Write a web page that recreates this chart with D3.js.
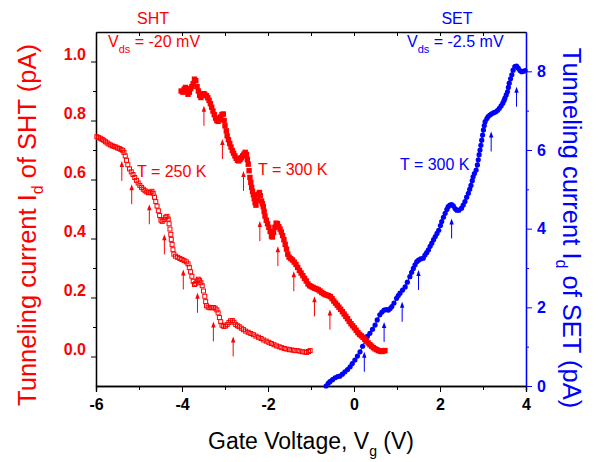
<!DOCTYPE html>
<html><head><meta charset="utf-8">
<script src="https://cdn.jsdelivr.net/npm/d3@7"></script>
<style>body{margin:0;background:#fff}svg{display:block}text{font-family:"Liberation Sans",Arial,sans-serif}</style>
</head><body>
<svg id="c" width="599" height="462"></svg>
<script>
// ---- data ----
const sht250V = [-5.98,-5.94,-5.90,-5.86,-5.82,-5.78,-5.74,-5.70,-5.66,-5.62,-5.58,-5.54,-5.50,-5.46,-5.42,-5.38,-5.35,-5.32,-5.29,-5.26,-5.22,-5.18,-5.14,-5.10,-5.06,-5.02,-4.98,-4.94,-4.90,-4.86,-4.82,-4.78,-4.74,-4.70,-4.67,-4.64,-4.61,-4.58,-4.55,-4.52,-4.49,-4.46,-4.42,-4.38,-4.35,-4.32,-4.30,-4.28,-4.26,-4.25,-4.23,-4.21,-4.19,-4.15,-4.10,-4.05,-4.00,-3.95,-3.90,-3.86,-3.83,-3.80,-3.77,-3.74,-3.71,-3.68,-3.65,-3.62,-3.59,-3.56,-3.53,-3.50,-3.47,-3.45,-3.43,-3.39,-3.35,-3.31,-3.27,-3.23,-3.19,-3.16,-3.13,-3.10,-3.07,-3.03,-2.99,-2.95,-2.91,-2.87,-2.83,-2.79,-2.75,-2.71,-2.67,-2.62,-2.57,-2.52,-2.46,-2.40,-2.34,-2.28,-2.22,-2.16,-2.10,-2.04,-1.98,-1.92,-1.86,-1.80,-1.74,-1.68,-1.62,-1.56,-1.50,-1.44,-1.38,-1.32,-1.26,-1.20,-1.14,-1.10,-1.06,-1.02];
const sht250I = [.745,.742,.740,.736,.733,.728,.724,.720,.717,.714,.712,.710,.707,.705,.702,.699,.692,.680,.665,.650,.636,.626,.617,.607,.597,.588,.580,.573,.567,.562,.558,.555,.556,.560,.553,.540,.525,.510,.494,.478,.462,.458,.464,.472,.475,.466,.450,.432,.414,.397,.380,.362,.347,.340,.336,.332,.329,.325,.321,.314,.302,.287,.272,.255,.244,.248,.256,.262,.258,.250,.240,.222,.204,.186,.172,.167,.165,.166,.166,.164,.158,.148,.132,.118,.106,.102,.103,.108,.115,.121,.122,.116,.108,.104,.101,.096,.091,.086,.082,.078,.074,.069,.065,.061,.056,.052,.048,.044,.040,.036,.033,.030,.027,.025,.023,.022,.020,.020,.018,.016,.015,.014,.017,.020];

const sht300V = [-4.02,-3.98,-3.95,-3.92,-3.89,-3.86,-3.83,-3.80,-3.77,-3.74,-3.71,-3.68,-3.65,-3.62,-3.59,-3.56,-3.53,-3.50,-3.47,-3.43,-3.40,-3.37,-3.34,-3.31,-3.28,-3.25,-3.22,-3.19,-3.16,-3.13,-3.10,-3.07,-3.04,-3.02,-3.00,-2.97,-2.95,-2.92,-2.89,-2.86,-2.83,-2.80,-2.77,-2.74,-2.71,-2.68,-2.65,-2.62,-2.59,-2.56,-2.53,-2.50,-2.48,-2.46,-2.44,-2.42,-2.40,-2.38,-2.36,-2.34,-2.32,-2.30,-2.28,-2.25,-2.22,-2.20,-2.18,-2.15,-2.13,-2.11,-2.09,-2.07,-2.04,-2.01,-1.98,-1.95,-1.92,-1.90,-1.87,-1.84,-1.81,-1.78,-1.75,-1.72,-1.69,-1.66,-1.63,-1.60,-1.57,-1.54,-1.51,-1.47,-1.43,-1.39,-1.35,-1.31,-1.27,-1.23,-1.19,-1.15,-1.11,-1.07,-1.03,-0.99,-0.95,-0.91,-0.87,-0.83,-0.79,-0.75,-0.71,-0.67,-0.63,-0.59,-0.55,-0.51,-0.47,-0.43,-0.39,-0.35,-0.31,-0.27,-0.23,-0.19,-0.15,-0.11,-0.07,-0.03,0.01,0.05,0.09,0.13,0.17,0.21,0.25,0.29,0.33,0.37,0.41,0.45,0.49,0.53,0.57,0.61,0.65,0.69,0.72];
const sht300I = [.900,.896,.906,.912,.900,.889,.896,.908,.915,.925,.940,.935,.915,.900,.885,.878,.886,.891,.889,.884,.877,.868,.857,.845,.832,.820,.808,.800,.797,.804,.812,.820,.822,.800,.782,.765,.748,.735,.722,.710,.698,.689,.680,.672,.665,.663,.668,.674,.680,.686,.692,.685,.668,.652,.630,.607,.590,.573,.560,.548,.535,.522,.513,.530,.550,.556,.545,.527,.518,.508,.492,.476,.462,.450,.438,.424,.408,.405,.420,.438,.452,.450,.440,.432,.422,.410,.396,.380,.364,.347,.337,.332,.327,.320,.312,.302,.292,.283,.274,.265,.256,.246,.240,.237,.234,.231,.229,.226,.222,.217,.213,.210,.208,.206,.203,.196,.188,.181,.174,.167,.160,.152,.144,.136,.128,.119,.111,.104,.097,.089,.081,.075,.070,.065,.059,.052,.046,.040,.035,.030,.026,.023,.020,.018,.017,.019,.020];

const setV = [-0.65,-0.60,-0.56,-0.50,-0.44,-0.38,-0.33,-0.27,-0.21,-0.15,-0.09,-0.04,0.02,0.08,0.14,0.20,0.26,0.31,0.37,0.43,0.49,0.54,0.60,0.65,0.70,0.75,0.80,0.84,0.88,0.93,0.99,1.03,1.07,1.13,1.19,1.24,1.30,1.34,1.38,1.42,1.46,1.50,1.55,1.61,1.65,1.69,1.73,1.77,1.81,1.85,1.89,1.93,1.97,2.01,2.04,2.08,2.12,2.16,2.19,2.23,2.27,2.31,2.35,2.39,2.44,2.50,2.54,2.58,2.62,2.66,2.69,2.72,2.75,2.77,2.80,2.84,2.87,2.89,2.91,2.93,2.95,2.97,2.99,3.01,3.03,3.05,3.09,3.12,3.16,3.20,3.25,3.30,3.34,3.38,3.42,3.46,3.49,3.51,3.54,3.57,3.59,3.61,3.64,3.67,3.70,3.74,3.78,3.82,3.86,3.90,3.94,3.98];
const setI = [0.00,0.07,0.11,0.16,0.21,0.24,0.25,0.30,0.36,0.42,0.49,0.57,0.66,0.76,0.87,1.01,1.17,1.26,1.34,1.44,1.55,1.68,1.81,1.88,1.93,1.94,1.93,1.97,2.02,2.11,2.23,2.30,2.36,2.44,2.52,2.64,2.78,2.89,2.99,3.08,3.16,3.20,3.23,3.25,3.33,3.39,3.46,3.55,3.63,3.72,3.80,3.88,3.96,4.08,4.18,4.29,4.39,4.49,4.56,4.60,4.61,4.58,4.51,4.47,4.47,4.52,4.60,4.69,4.80,4.90,5.00,5.10,5.22,5.32,5.40,5.49,5.62,5.75,5.88,6.00,6.12,6.25,6.38,6.51,6.62,6.72,6.80,6.85,6.89,6.92,6.95,6.97,7.01,7.06,7.12,7.19,7.26,7.32,7.40,7.48,7.59,7.70,7.81,7.91,8.03,8.12,8.13,8.08,8.02,7.99,8.00,8.02];

// arrows: x (V) and tip current
const arrow250V = [-5.40,-5.17,-4.76,-4.41,-3.97,-3.64,-3.27,-2.81];
const arrow250I = [0.663,0.584,0.516,0.414,0.295,0.216,0.119,0.068];
const arrow300V = [-3.49,-3.06,-2.57,-2.19,-1.77,-1.40,-0.92,-0.56];
const arrow300I = [0.850,0.737,0.629,0.459,0.374,0.289,0.204,0.159];
const arrowSetV = [0.24,0.70,1.12,1.50,2.27,3.19,3.78];
const arrowSetI = [0.87,1.63,2.14,2.95,4.26,6.47,7.61];

const xTicks = [-6,-4,-2,0,2,4];
const xMinor = [-5,-3,-1,1,3];
const xTop = [-5,-4,-3,-2,-1,0,1,2,3];
const leftTicks = [0.0,0.2,0.4,0.6,0.8,1.0];
const leftMinor = [0.1,0.3,0.5,0.7,0.9];
const rightTicks = [0,2,4,6,8];
const rightMinor = [1,3,5,7];

// ---- chart ----
const RED = "#ff0000", BLUE = "#0000ff";
const svg = d3.select("#c");
const x = d3.scaleLinear().domain([-6,4]).range([96,526]);
const yL = d3.scaleLinear().domain([-0.1,1.1]).range([386,32]);
const yR = d3.scaleLinear().domain([0,9]).range([386,32]);

// bottom axis
const gB = svg.append("g").attr("transform","translate(0,386)")
  .call(d3.axisBottom(x).tickValues(xTicks).tickSize(6).tickPadding(7).tickFormat(d=>String(d)));
gB.append("g").call(d3.axisBottom(x).tickValues(xMinor).tickSize(4).tickFormat(""));
gB.selectAll("text").attr("font-size",16).attr("font-weight","bold").attr("fill","#000")
  .style("font-family","'Liberation Sans',Arial,sans-serif");
// top axis
svg.append("g").attr("transform","translate(0,32)")
  .call(d3.axisTop(x).tickValues(xTop).tickSize(-4).tickFormat("").tickSizeOuter(0));
// left axis
const gL = svg.append("g").attr("transform","translate(96,0)")
  .call(d3.axisLeft(yL).tickValues(leftTicks).tickSize(5).tickPadding(5).tickFormat(d3.format(".1f")).tickSizeOuter(0));
gL.append("g").call(d3.axisLeft(yL).tickValues(leftMinor).tickSize(3).tickFormat("").tickSizeOuter(0));
gL.selectAll("text").attr("font-size",16).attr("font-weight","bold").attr("fill",RED).attr("dy","-0.12em")
  .style("font-family","'Liberation Sans',Arial,sans-serif");
// right axis
const gR = svg.append("g").attr("transform","translate(526,0)")
  .call(d3.axisRight(yR).tickValues(rightTicks).tickSize(6).tickPadding(5).tickSizeOuter(0));
gR.append("g").call(d3.axisRight(yR).tickValues(rightMinor).tickSize(3).tickFormat("").tickSizeOuter(0));
gR.selectAll("text").attr("font-size",16).attr("font-weight","bold").attr("fill",BLUE)
  .style("font-family","'Liberation Sans',Arial,sans-serif");
gR.selectAll("path,line").attr("stroke",BLUE);
svg.selectAll(".domain").attr("stroke-width",1.3);
gR.select(".domain").attr("stroke",BLUE);

// SET series
const setData = setV.map((v,i)=>[v,setI[i]]);
svg.append("path").datum(setData).attr("fill","none").attr("stroke",BLUE).attr("stroke-width",1)
  .attr("d",d3.line().x(d=>x(d[0])).y(d=>yR(d[1])));
svg.append("g").selectAll("circle").data(setData).join("circle")
  .attr("cx",d=>x(d[0])).attr("cy",d=>yR(d[1])).attr("r",2.6).attr("fill",BLUE);

// SHT 300K filled squares
const d300 = sht300V.map((v,i)=>[v,sht300I[i]]);
svg.append("g").selectAll("rect").data(d300).join("rect")
  .attr("x",d=>x(d[0])-2.7).attr("y",d=>yL(d[1])-2.7).attr("width",5.4).attr("height",5.4).attr("fill",RED);

// SHT 250K open squares
const d250 = sht250V.map((v,i)=>[v,sht250I[i]]);
svg.append("g").selectAll("rect").data(d250).join("rect")
  .attr("x",d=>x(d[0])-2).attr("y",d=>yL(d[1])-2).attr("width",4).attr("height",4)
  .attr("fill","none").attr("stroke",RED).attr("stroke-width",1);

// arrows
function arrows(vs, is, ys, color){
  const g = svg.append("g");
  vs.forEach((v,i)=>{
    const ax = x(v), ay = ys(is[i]);
    g.append("line").attr("x1",ax).attr("x2",ax).attr("y1",ay+4).attr("y2",ay+20)
      .attr("stroke",color).attr("stroke-width",1);
    g.append("path").attr("d",`M${ax},${ay}L${ax-2.2},${ay+6}L${ax+2.2},${ay+6}Z`).attr("fill",color);
  });
}
arrows(arrow250V, arrow250I, yL, RED);
arrows(arrow300V, arrow300I, yL, RED);
arrows(arrowSetV, arrowSetI, yR, BLUE);

// annotations
function txt(xp, yp, color, size, anchor){
  return svg.append("text").attr("x",xp).attr("y",yp).attr("fill",color).attr("font-size",size).attr("text-anchor",anchor||"start");
}
txt(153,24,RED,16,"middle").text("SHT");
txt(457,24,BLUE,16,"middle").text("SET");
const v1 = txt(108,47,RED,16);
v1.append("tspan").text("V");
v1.append("tspan").attr("font-size",11).attr("dy",6).text("ds");
v1.append("tspan").attr("dy",-6).text(" = -20 mV");
const v2 = txt(407,47,BLUE,16);
v2.append("tspan").text("V");
v2.append("tspan").attr("font-size",11).attr("dy",6).text("ds");
v2.append("tspan").attr("dy",-6).text(" = -2.5 mV");
txt(137,177,RED,16).text("T = 250 K");
txt(258,175,RED,16).text("T = 300 K");
txt(400,170,BLUE,16).text("T = 300 K");

// axis titles
const xt = txt(311,449,"#000",23,"middle");
xt.append("tspan").text("Gate Voltage, V");
xt.append("tspan").attr("font-size",14).attr("dy",7).text("g");
xt.append("tspan").attr("dy",-7).text(" (V)");

const lt = svg.append("text").attr("transform","translate(36,225) rotate(-90)").attr("text-anchor","middle")
  .attr("fill",RED).attr("font-size",25.5);
lt.append("tspan").text("Tunneling current I");
lt.append("tspan").attr("font-size",16).attr("dy",7).text("d");
lt.append("tspan").attr("dy",-7).text(" of SHT (pA)");

const rt = svg.append("text").attr("transform","translate(563,228) rotate(90)").attr("text-anchor","middle")
  .attr("fill",BLUE).attr("font-size",25.5);
rt.append("tspan").text("Tunneling current I");
rt.append("tspan").attr("font-size",16).attr("dy",7).text("d");
rt.append("tspan").attr("dy",-7).text(" of SET (pA)");
</script>
</body></html>
